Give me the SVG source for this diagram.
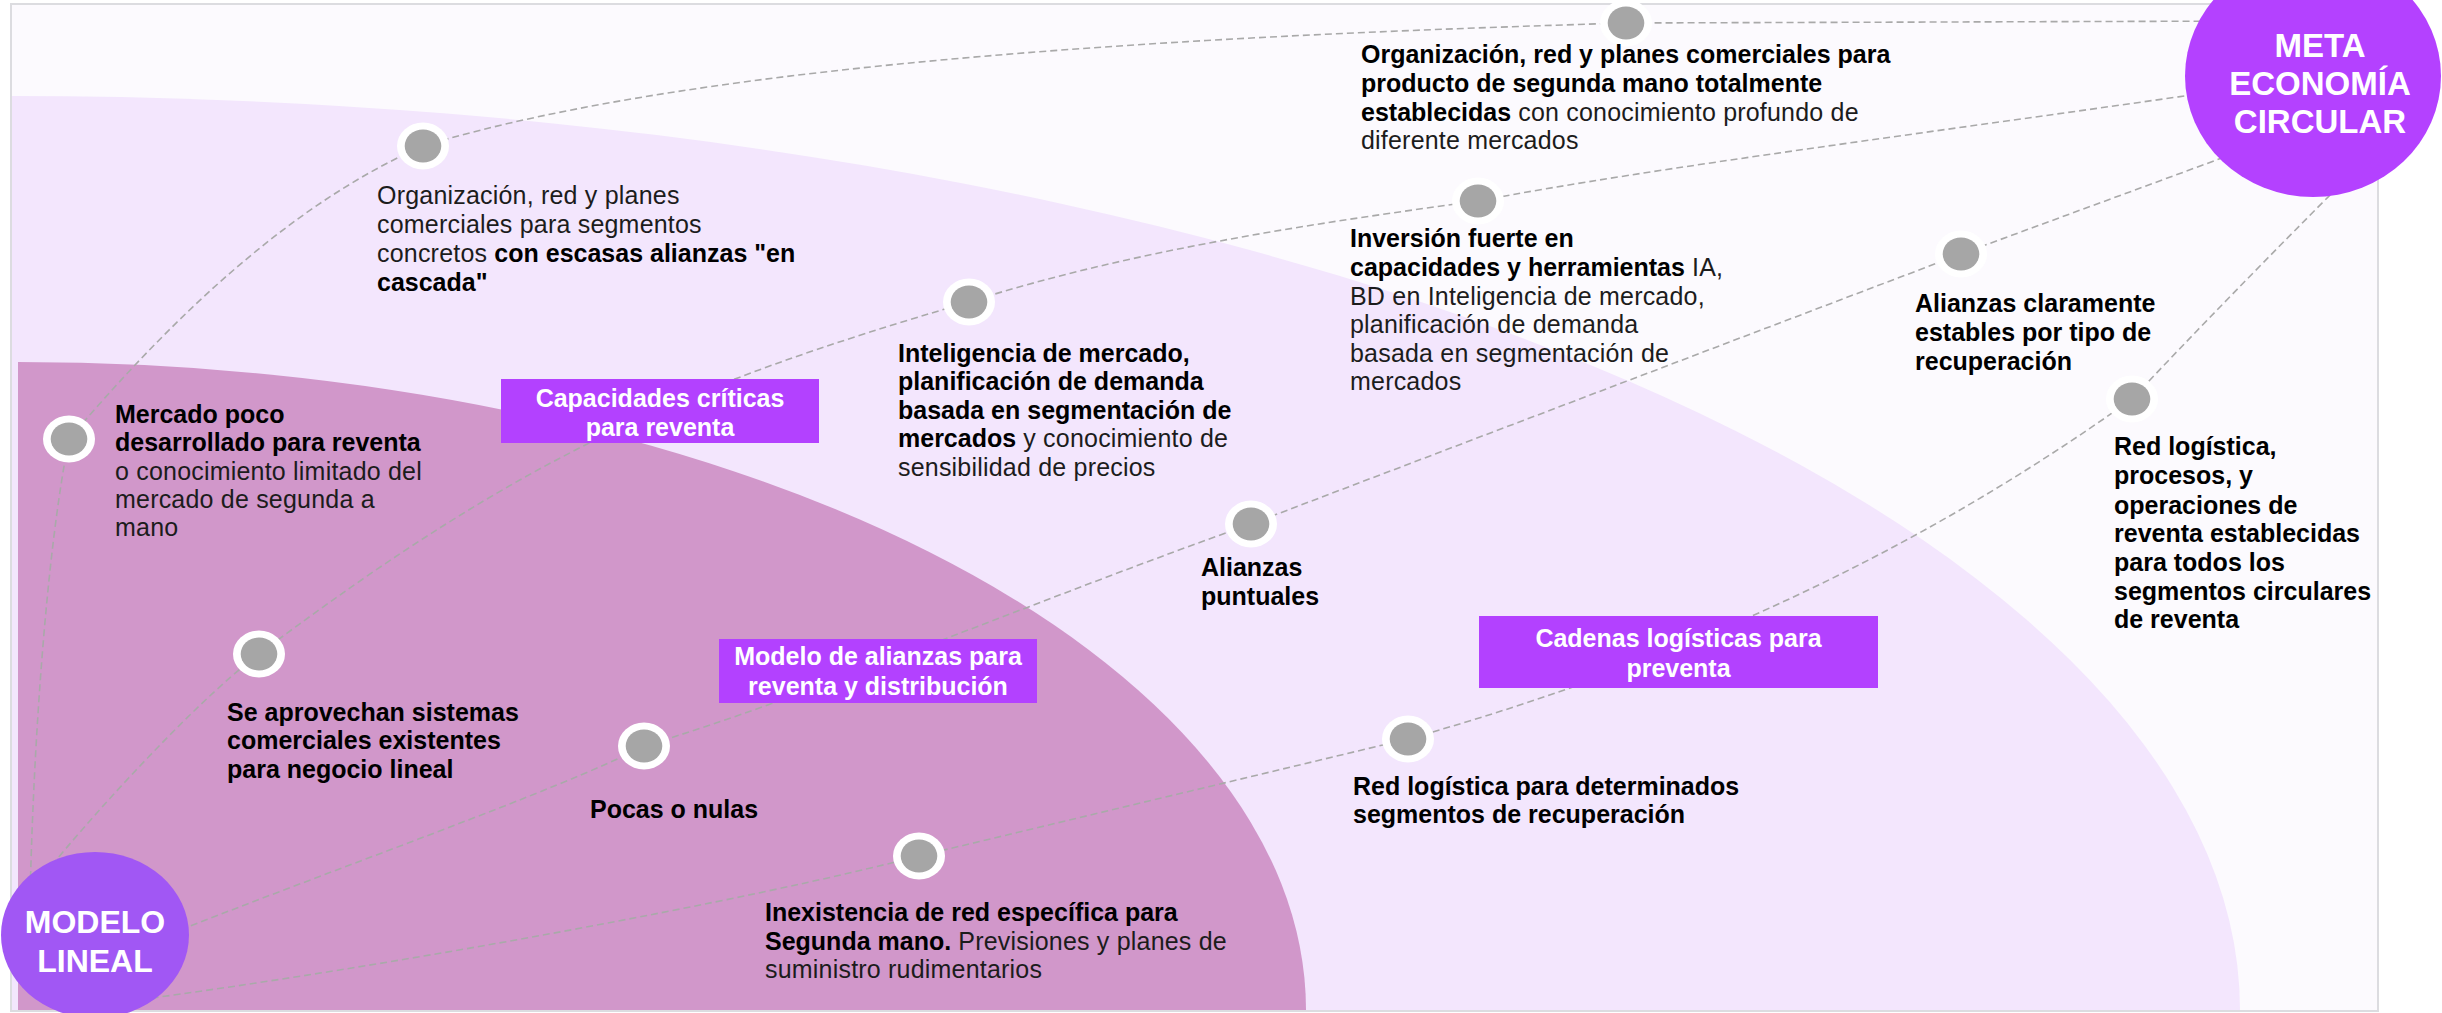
<svg xmlns="http://www.w3.org/2000/svg" width="2442" height="1013" viewBox="0 0 2442 1013">
<style>
.t{font-family:"Liberation Sans",Arial,sans-serif;font-size:25px;fill:#1c1c1c;letter-spacing:0.2px}
.b{font-weight:700;fill:#000;letter-spacing:0}
.ring{fill:#ffffff}
.dot{fill:#a6a6a6}
.lbl rect{fill:#b341ff}
.lbl text{font-family:"Liberation Sans",Arial,sans-serif;font-size:25px;font-weight:700;fill:#ffffff;text-anchor:middle}
.conn path{fill:none;stroke:#a9a9a9;stroke-width:1.6;stroke-dasharray:7 4}
.big text{font-family:"Liberation Sans",Arial,sans-serif;font-weight:700;fill:#ffffff;text-anchor:middle}
</style>
<defs>
<clipPath id="frameClip"><rect x="12" y="5" width="2365" height="1005"/></clipPath>
</defs>
<rect x="0" y="0" width="2442" height="1013" fill="#ffffff"/>
<rect x="11" y="4" width="2367" height="1007" fill="#fcfafe" stroke="#dcdce0" stroke-width="2"/>
<g id="zones" clip-path="url(#frameClip)">
<path d="M12 1010 L12 96 A2228 914 0 0 1 2240 1010 Z" fill="#f3e6fd"/>
<path d="M18 1010 L18 362 A1288 648 0 0 1 1306 1010 Z" fill="#d197ca"/>
</g>
<g id="connectors" class="conn">
<path d="M30 900 C33 760 45 560 69 439 C166 325 286 206 423 146 C710 59 1226 35 1626 23 L2260 21"/>
<path d="M25 900 C60 850 190 705 259 654 C523 456 681 386 969 302 C1129 251 1308 224 1478 201 C1650 168 1950 130 2240 88"/>
<path d="M150 942 C330 870 560 790 644 746 C800 700 1050 595 1251 524 L1961 254 L2260 144"/>
<path d="M130 1001 C400 965 750 900 919 856 L1408 739 C1696 658 1929 544 2132 399 Q2225 300 2360 165"/>
</g>
<g id="node-mercado-poco">
<ellipse class="ring" cx="69" cy="439" rx="26" ry="23.5"/><ellipse class="dot" cx="69" cy="439" rx="18.3" ry="16.5"/>
<text class="t" x="115"><tspan class="b" x="115" y="423">Mercado poco</tspan><tspan class="b" x="115" y="451">desarrollado para reventa</tspan><tspan x="115" y="480">o conocimiento limitado del</tspan><tspan x="115" y="508">mercado de segunda a</tspan><tspan x="115" y="536">mano</tspan></text>
</g>
<g id="node-org-segmentos">
<ellipse class="ring" cx="423" cy="146" rx="26" ry="23.5"/><ellipse class="dot" cx="423" cy="146" rx="18.3" ry="16.5"/>
<text class="t"><tspan x="377" y="204">Organización, red y planes</tspan><tspan x="377" y="233">comerciales para segmentos</tspan><tspan x="377" y="262">concretos <tspan class="b">con escasas alianzas &quot;en</tspan></tspan><tspan class="b" x="377" y="291">cascada&quot;</tspan></text>
</g>
<g id="node-org-establecidas">
<ellipse class="ring" cx="1626" cy="23" rx="26" ry="23.5"/><ellipse class="dot" cx="1626" cy="23" rx="18.3" ry="16.5"/>
<text class="t"><tspan class="b" x="1361" y="63">Organización, red y planes comerciales para</tspan><tspan class="b" x="1361" y="92">producto de segunda mano totalmente</tspan><tspan x="1361" y="121"><tspan class="b">establecidas</tspan> con conocimiento profundo de</tspan><tspan x="1361" y="149">diferente mercados</tspan></text>
</g>
<g id="node-se-aprovechan">
<ellipse class="ring" cx="259" cy="654" rx="26" ry="23.5"/><ellipse class="dot" cx="259" cy="654" rx="18.3" ry="16.5"/>
<text class="t b"><tspan x="227" y="721">Se aprovechan sistemas</tspan><tspan x="227" y="749">comerciales existentes</tspan><tspan x="227" y="778">para negocio lineal</tspan></text>
</g>
<g id="node-inteligencia">
<ellipse class="ring" cx="969" cy="302" rx="26" ry="23.5"/><ellipse class="dot" cx="969" cy="302" rx="18.3" ry="16.5"/>
<text class="t"><tspan class="b" x="898" y="362">Inteligencia de mercado,</tspan><tspan class="b" x="898" y="390">planificación de demanda</tspan><tspan class="b" x="898" y="419">basada en segmentación de</tspan><tspan x="898" y="447"><tspan class="b">mercados</tspan> y conocimiento de</tspan><tspan x="898" y="476">sensibilidad de precios</tspan></text>
</g>
<g id="node-inversion">
<ellipse class="ring" cx="1478" cy="201" rx="26" ry="23.5"/><ellipse class="dot" cx="1478" cy="201" rx="18.3" ry="16.5"/>
<text class="t"><tspan class="b" x="1350" y="247">Inversión fuerte en</tspan><tspan x="1350" y="276"><tspan class="b">capacidades y herramientas</tspan> IA,</tspan><tspan x="1350" y="305">BD en Inteligencia de mercado,</tspan><tspan x="1350" y="333">planificación de demanda</tspan><tspan x="1350" y="362">basada en segmentación de</tspan><tspan x="1350" y="390">mercados</tspan></text>
</g>
<g id="node-pocas">
<ellipse class="ring" cx="644" cy="746" rx="26" ry="23.5"/><ellipse class="dot" cx="644" cy="746" rx="18.3" ry="16.5"/>
<text class="t b" x="590" y="818">Pocas o nulas</text>
</g>
<g id="node-alianzas-puntuales">
<ellipse class="ring" cx="1251" cy="524" rx="26" ry="23.5"/><ellipse class="dot" cx="1251" cy="524" rx="18.3" ry="16.5"/>
<text class="t b"><tspan x="1201" y="576">Alianzas</tspan><tspan x="1201" y="605">puntuales</tspan></text>
</g>
<g id="node-alianzas-claramente">
<ellipse class="ring" cx="1961" cy="254" rx="26" ry="23.5"/><ellipse class="dot" cx="1961" cy="254" rx="18.3" ry="16.5"/>
<text class="t b"><tspan x="1915" y="312">Alianzas claramente</tspan><tspan x="1915" y="341">estables por tipo de</tspan><tspan x="1915" y="370">recuperación</tspan></text>
</g>
<g id="node-inexistencia">
<ellipse class="ring" cx="919" cy="856" rx="26" ry="23.5"/><ellipse class="dot" cx="919" cy="856" rx="18.3" ry="16.5"/>
<text class="t"><tspan class="b" x="765" y="921">Inexistencia de red específica para</tspan><tspan x="765" y="950"><tspan class="b">Segunda mano.</tspan> Previsiones y planes de</tspan><tspan x="765" y="978">suministro rudimentarios</tspan></text>
</g>
<g id="node-red-determinados">
<ellipse class="ring" cx="1408" cy="739" rx="26" ry="23.5"/><ellipse class="dot" cx="1408" cy="739" rx="18.3" ry="16.5"/>
<text class="t b"><tspan x="1353" y="795">Red logística para determinados</tspan><tspan x="1353" y="823">segmentos de recuperación</tspan></text>
</g>
<g id="node-red-procesos">
<ellipse class="ring" cx="2132" cy="399" rx="26" ry="23.5"/><ellipse class="dot" cx="2132" cy="399" rx="18.3" ry="16.5"/>
<text class="t b"><tspan x="2114" y="455">Red logística,</tspan><tspan x="2114" y="484">procesos, y</tspan><tspan x="2114" y="514">operaciones de</tspan><tspan x="2114" y="542">reventa establecidas</tspan><tspan x="2114" y="571">para todos los</tspan><tspan x="2114" y="600">segmentos circulares</tspan><tspan x="2114" y="628">de reventa</tspan></text>
</g>
<g id="label-capacidades" class="lbl">
<rect x="501" y="379" width="318" height="64"/>
<text><tspan x="660" y="407">Capacidades críticas</tspan><tspan x="660" y="436">para reventa</tspan></text>
</g>
<g id="label-alianzas" class="lbl">
<rect x="719" y="639" width="318" height="64"/>
<text><tspan x="878" y="665">Modelo de alianzas para</tspan><tspan x="878" y="695">reventa y distribución</tspan></text>
</g>
<g id="label-cadenas" class="lbl">
<rect x="1479" y="616" width="399" height="72"/>
<text><tspan x="1678.5" y="647">Cadenas logísticas para</tspan><tspan x="1678.5" y="677">preventa</tspan></text>
</g>
<g id="node-modelo-lineal" class="big">
<ellipse cx="95" cy="935" rx="94" ry="83" fill="#a157f4"/>
<text font-size="32"><tspan x="95" y="933">MODELO</tspan><tspan x="95" y="972">LINEAL</tspan></text>
</g>
<g id="node-meta" class="big">
<ellipse cx="2313" cy="76" rx="128" ry="121" fill="#b441ff"/>
<text font-size="33"><tspan x="2320" y="57">META</tspan><tspan x="2320" y="95">ECONOMÍA</tspan><tspan x="2320" y="133">CIRCULAR</tspan></text>
</g>
</svg>
